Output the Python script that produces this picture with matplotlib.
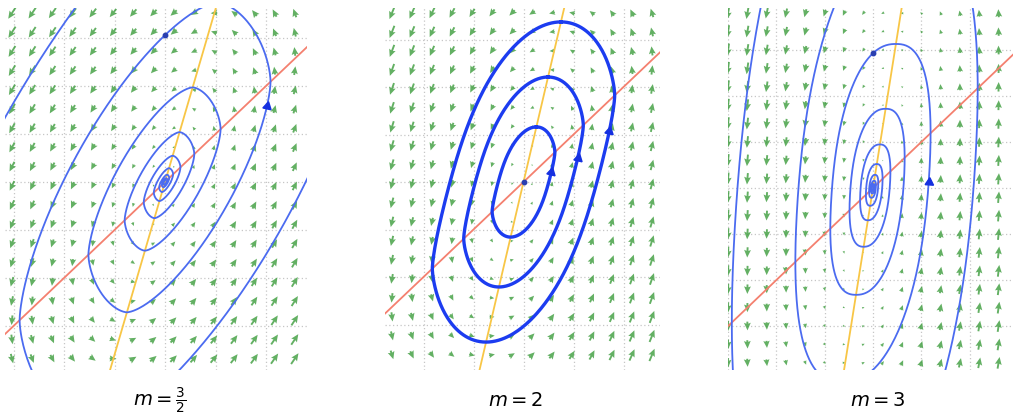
import numpy as np
import matplotlib
matplotlib.use("Agg")
import matplotlib.pyplot as plt

# ---------------- data ----------------
labels = [r"$m=\frac{3}{2}$", r"$m=2$", r"$m=3$"]
red_slope = [1.0, 1.0, 1.0]          # x' = 0 nullcline  y = a x
yellow_slope = [3.6, 4.5, 6.6]       # y' = 0 nullcline  y = s x
turn_growth = [1.9, 1.0, 0.55]       # radius factor per counter-clockwise turn
u_power = [0.6, 0.5, 1.0]            # shape exponent of the x-equation
v_power = [0.6, 1.0, 1.4]            # shape exponent of the y-equation
starts = [[(0.0, 3.06)],
          [(0.258, 1.16), (0.491, 2.21), (0.749, 3.37)],
          [(0.0, 2.93)]]
turns_fwd = [2.6, 1.0, 7.0]
turns_bwd = [7.0, 0.0, 3.0]
marker_offsets = [[-52.0], [-56.5, -52.5, -45.5], [-84.0]]   # degrees from start
dots = [[(0.0, 3.06)], [(0.0, 0.0)], [(0.0, 2.93)]]

# ---------------- layout (pixels of the 1016x417 figure) ----------------
W, H = 1016, 417
panel_px = [(5, 307), (385, 660), (728, 1013)]
panel_top, panel_bottom = 8, 370
center_px = [(165, 182), (523.5, 182), (873, 188)]
unit_px = [(50.5, 48.0), (50.0, 47.5), (48.3, 46.0)]
arrow_origin = [(-3.03, 3.52), (-2.63, 3.56), (-3.0, 3.8)]
arrow_step = 0.4
label_px = [(160, 401), (516, 401), (878, 401)]
line_w = [1.3, 2.4, 1.3]
line_c = ["#4b6bf0", "#1c3cf0", "#4b6bf0"]


def field(x, y, k, a, s, mu, nu):
    u = y - a * x
    v = x - y / s
    r = np.maximum(np.hypot(x, y), 1e-300)
    fx = -k * np.sign(u) * np.abs(u) ** mu * r ** (1 - mu)
    fy = np.sign(v) * np.abs(v) ** nu * r ** (1 - nu)
    return fx, fy


def rhs_theta(p, prm):
    x, y = p
    fx, fy = field(x, y, *prm)
    w = (x * fy - y * fx) / (x * x + y * y)
    return np.array([fx / w, fy / w])


def integrate(p0, turns, prm, spt=720):
    n = int(round(abs(turns) * spt))
    h = np.sign(turns) * 2 * np.pi / spt
    pts = np.empty((n + 1, 2))
    p = np.array(p0, float)
    pts[0] = p
    for i in range(n):
        k1 = rhs_theta(p, prm)
        k2 = rhs_theta(p + 0.5 * h * k1, prm)
        k3 = rhs_theta(p + 0.5 * h * k2, prm)
        k4 = rhs_theta(p + h * k3, prm)
        p = p + h / 6 * (k1 + 2 * k2 + 2 * k3 + k4)
        pts[i + 1] = p
    return pts


def solve_k(target, a, s, mu, nu):
    lo, hi = np.log(0.01), np.log(4.0)
    for _ in range(34):
        mid = 0.5 * (lo + hi)
        g = np.hypot(*integrate((0.0, 1.0), 1.0, (np.exp(mid), a, s, mu, nu), spt=240)[-1])
        if not np.isfinite(g) or g > target:
            hi = mid
        else:
            lo = mid
    return np.exp(0.5 * (lo + hi))


fig = plt.figure(figsize=(W / 100, H / 100), dpi=100)

for i in range(3):
    a, s, mu, nu = red_slope[i], yellow_slope[i], u_power[i], v_power[i]
    k = solve_k(turn_growth[i], a, s, mu, nu)
    prm = (k, a, s, mu, nu)
    L, R = panel_px[i]
    cx, cy = center_px[i]
    ux, uy = unit_px[i]
    ax = fig.add_axes([L / W, 1 - panel_bottom / H, (R - L) / W, (panel_bottom - panel_top) / H])
    xlim = ((L - cx) / ux, (R - cx) / ux)
    ylim = ((cy - panel_bottom) / uy, (cy - panel_top) / uy)
    ax.set_xlim(*xlim)
    ax.set_ylim(*ylim)
    ax.set_xticks(np.arange(np.ceil(xlim[0]), xlim[1], 1.0))
    ax.set_yticks(np.arange(np.ceil(ylim[0]), ylim[1], 1.0))
    ax.grid(True, color="#c6c6c6", lw=0.9, ls=(0, (1, 2)))
    ax.tick_params(length=0, labelbottom=False, labelleft=False)
    for sp in ax.spines.values():
        sp.set_visible(False)

    # vector field
    x0, y0 = arrow_origin[i]
    X, Y = np.meshgrid(np.arange(x0, xlim[1], arrow_step), np.arange(y0, ylim[0], -arrow_step))
    FX, FY = field(X, Y, *prm)
    M = np.hypot(FX, FY) + 1e-12
    Lr = 0.28 * (M / M.max()) ** 0.6
    ax.quiver(X, Y, FX / M * Lr, FY / M * Lr, angles="xy", scale_units="xy", scale=1,
              pivot="mid", color="#3c9c3c", alpha=0.8, units="dots", width=1.9,
              headwidth=3.6, headlength=4.0, headaxislength=3.5, minlength=0.3, zorder=2)

    # nullclines
    xs = np.array(xlim)
    ax.plot(xs, a * xs, color="#f4806f", lw=1.3, zorder=3)
    ax.plot(xs, s * xs, color="#f8c646", lw=1.3, zorder=3)

    # trajectories
    for j, p0 in enumerate(starts[i]):
        fw = integrate(p0, turns_fwd[i], prm)
        if turns_bwd[i] > 0:
            bw = integrate(p0, -turns_bwd[i], prm)
            path = np.vstack([bw[::-1], fw[1:]])
        else:
            path = fw
        ax.plot(path[:, 0], path[:, 1], color=line_c[i], lw=line_w[i], zorder=4)
        mp = integrate(p0, marker_offsets[i][j] / 360.0, prm)[-1]
        fx, fy = field(mp[0], mp[1], *prm)
        ang = np.degrees(np.arctan2(fy * uy, fx * ux))
        ax.plot(mp[0], mp[1], marker=(3, 0, ang - 90), ms=7, color="#1530e0", zorder=6)
    for d in dots[i]:
        ax.plot(d[0], d[1], "o", ms=3.2, color="#2a3fb0", zorder=6)

    fig.text(label_px[i][0] / W, 1 - label_px[i][1] / H, labels[i], ha="center", va="center",
             fontsize=14)

fig.savefig("out.png", dpi=100)
